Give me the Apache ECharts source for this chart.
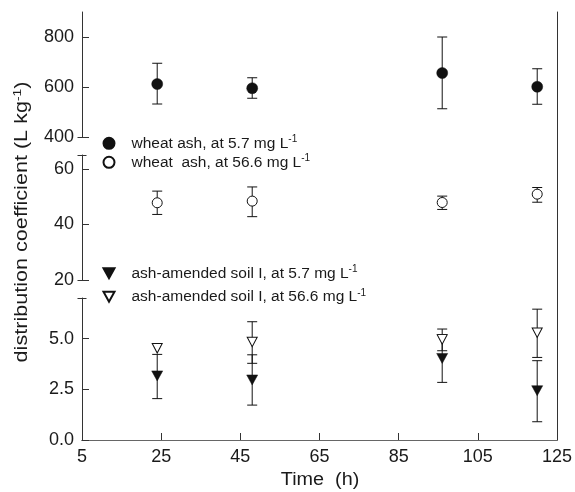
<!DOCTYPE html>
<html>
<head>
<meta charset="utf-8">
<script src="https://cdn.jsdelivr.net/npm/echarts@6/dist/echarts.min.js"></script>
<style>html,body{margin:0;padding:0;background:#fff}#c{width:575px;height:492px}</style>
</head>
<body>
<div id="c"></div>
<script>
// ---- data ----
const times = [24, 48, 96, 120];
const xTicks = [5, 25, 45, 65, 85, 105, 125];
const yTicksTop = [400, 600, 800];
const yTicksMid = [20, 40, 60];
const yTicksLow = [0, 2.5, 5.0];

const names = [
  'wheat ash, at 5.7 mg L⁻¹',
  'wheat  ash, at 56.6 mg L⁻¹',
  'ash-amended soil I, at 5.7 mg L⁻¹',
  'ash-amended soil I, at 56.6 mg L⁻¹'
];

const wheat57 = [612, 595, 656, 601];
const wheat57Lo = [532, 555, 513, 531];
const wheat57Hi = [695, 637, 800, 673];

const wheat566 = [47.8, 48.4, 47.9, 50.9];
const wheat566Lo = [43.6, 42.8, 45.4, 48.0];
const wheat566Hi = [52.0, 53.5, 50.2, 53.3];

const soil57 = [3.16, 2.96, 4.02, 2.43];
const soil57Lo = [2.04, 1.72, 2.84, 0.90];
const soil57Hi = [4.22, 4.20, 5.20, 3.91];

const soil566 = [4.52, 4.83, 4.96, 5.29];
const soil566Lo = [null, 3.78, 4.40, 4.07];
const soil566Hi = [null, 5.83, 5.47, 6.45];

// ---- chart ----
const chart = echarts.init(document.getElementById('c'), null, {renderer: 'canvas'});
const FONT = 'Liberation Sans, Arial, Helvetica, sans-serif';
const AX = '#333';
const INK = '#111';
const DOWN_TRI = 'path://M0,0 L10,0 L5,9 Z';

function gridPair(top, bottom) {
  return {left: 82, right: 18, top: top, bottom: bottom, containLabel: false};
}

function mainY(gi, min, max, ticks, fmt) {
  return {
    type: 'value', gridIndex: gi, min: min, max: max, position: 'left',
    axisLine: {show: true, lineStyle: {color: AX, width: 1}},
    axisTick: {show: true, inside: true, length: 7, lineStyle: {color: AX}, customValues: ticks},
    axisLabel: {show: true, customValues: ticks, margin: 8, color: '#1a1a1a', fontSize: 18, fontFamily: FONT, formatter: fmt},
    splitLine: {show: false}
  };
}
function capY(gi, min, max, caps) {
  return {
    type: 'value', gridIndex: gi, min: min, max: max, position: 'left', offset: 4.5,
    axisLine: {show: false},
    axisTick: {show: true, inside: true, length: 9, lineStyle: {color: AX}, customValues: caps},
    axisLabel: {show: false},
    splitLine: {show: false}
  };
}
function hiddenX(gi) {
  return {type: 'value', gridIndex: gi, min: 5, max: 125, show: false};
}

function errSeries(xs, lo, hi, xi, yi) {
  const data = [];
  xs.forEach((x, i) => { if (lo[i] != null && hi[i] != null) data.push([x, lo[i], hi[i]]); });
  return {
    type: 'custom', xAxisIndex: xi, yAxisIndex: yi, silent: true, z: 1,
    data: data,
    encode: {x: 0, y: [1, 2]},
    renderItem: function (params, api) {
      const x = api.value(0), l = api.value(1), h = api.value(2);
      const pt = api.coord([x, h]);
      const pb = api.coord([x, l]);
      const w = 5;
      const st = {stroke: INK, lineWidth: 1};
      return {
        type: 'group',
        children: [
          {type: 'line', shape: {x1: pt[0], y1: pt[1], x2: pb[0], y2: pb[1]}, style: st},
          {type: 'line', shape: {x1: pt[0] - w, y1: pt[1], x2: pt[0] + w, y2: pt[1]}, style: st},
          {type: 'line', shape: {x1: pb[0] - w, y1: pb[1], x2: pb[0] + w, y2: pb[1]}, style: st}
        ]
      };
    }
  };
}

function scatter(name, xs, ys, xi, yi, symbol, size, filled) {
  return {
    type: 'scatter', name: name, xAxisIndex: xi, yAxisIndex: yi, z: 3,
    symbol: symbol, symbolSize: size,
    data: xs.map((x, i) => [x, ys[i]]),
    itemStyle: filled ? {color: INK, borderColor: INK, borderWidth: 0.5, opacity: 1}
                      : {color: '#fff', borderColor: INK, borderWidth: 1, opacity: 1},
    emphasis: {disabled: true}
  };
}

const legendRich = {
  p: {width: 12},
  t: {fontSize: 15.5, fontFamily: FONT, color: '#1a1a1a', lineHeight: 18},
  s: {fontSize: 10, fontFamily: FONT, color: '#1a1a1a', lineHeight: 10, verticalAlign: 'top'}
};
function legendFmt(name) {
  return '{p|}{t|' + name.slice(0, -2) + '}{s|-1}';
}
function legend(data, top, gap) {
  return {
    data: data, orient: 'vertical', left: 102.5, top: top, padding: 0,
    itemWidth: 11, itemHeight: 11, itemGap: gap, selectedMode: false,
    formatter: legendFmt,
    textStyle: {rich: legendRich, fontSize: 15.5, fontFamily: FONT, color: '#1a1a1a'}
  };
}

const option = {
  animation: false,
  backgroundColor: '#fff',
  grid: [
    gridPair(298, 52),   // low segment
    gridPair(155, 212),  // middle segment
    gridPair(12, 355),   // top segment
    gridPair(12, 52)     // frame
  ],
  xAxis: [
    {
      type: 'value', gridIndex: 0, min: 5, max: 125, position: 'bottom',
      axisLine: {show: true, lineStyle: {color: AX, width: 1}},
      axisTick: {show: true, inside: true, length: 7, lineStyle: {color: AX}, customValues: xTicks},
      axisLabel: {show: true, customValues: xTicks, margin: 8, color: '#1a1a1a', fontSize: 18, fontFamily: FONT},
      splitLine: {show: false}
    },
    hiddenX(1),
    hiddenX(2),
    {
      type: 'value', gridIndex: 3, min: 5, max: 125, position: 'top',
      axisLine: {show: true, lineStyle: {color: '#666', width: 1.2}},
      axisTick: {show: false}, axisLabel: {show: false}, splitLine: {show: false}
    }
  ],
  yAxis: [
    mainY(0, 0, 7, yTicksLow, v => v.toFixed(1)),
    mainY(1, 20, 65, yTicksMid, v => String(v)),
    mainY(2, 400, 900, yTicksTop, v => String(v)),
    capY(0, 0, 7, [7]),
    capY(1, 20, 65, [20, 65]),
    capY(2, 400, 900, [400]),
    {
      type: 'value', gridIndex: 3, min: 0, max: 1, position: 'right',
      axisLine: {show: true, lineStyle: {color: AX, width: 1}},
      axisTick: {show: false}, axisLabel: {show: false}, splitLine: {show: false}
    }
  ],
  legend: [
    legend([{name: names[0], icon: 'circle'}, {name: names[1], icon: 'circle'}], 134.3, 2),
    legend([{name: names[2], icon: DOWN_TRI}, {name: names[3], icon: DOWN_TRI}], 264.3, 6.5)
  ],
  graphic: [
    {
      type: 'text', x: 22, y: 222, rotation: Math.PI / 2, scaleX: 1.2, silent: true,
      style: {
        text: '{t|distribution coefficient (L kg}{s|-1}{t|)}',
        align: 'center', verticalAlign: 'middle',
        rich: {
          t: {fontSize: 18, fontFamily: FONT, fill: '#1a1a1a', lineHeight: 20},
          s: {fontSize: 11.5, fontFamily: FONT, fill: '#1a1a1a', lineHeight: 11, verticalAlign: 'top'}
        }
      }
    },
    {
      type: 'text', x: 320, y: 480, scaleX: 1.1, silent: true,
      style: {text: 'Time  (h)', font: '18px ' + FONT, fill: '#1a1a1a', align: 'center', verticalAlign: 'middle'}
    }
  ],
  series: [
    errSeries(times, wheat57Lo, wheat57Hi, 2, 2),
    errSeries(times, wheat566Lo, wheat566Hi, 1, 1),
    errSeries(times, soil57Lo, soil57Hi, 0, 0),
    errSeries(times, soil566Lo, soil566Hi, 0, 0),
    scatter(names[0], times, wheat57, 2, 2, 'circle', 11, true),
    scatter(names[1], times, wheat566, 1, 1, 'circle', 10, false),
    scatter(names[2], times, soil57, 0, 0, DOWN_TRI, [11, 10], true),
    scatter(names[3], times, soil566, 0, 0, DOWN_TRI, [10, 9.5], false)
  ]
};
chart.setOption(option);
</script>
</body>
</html>
